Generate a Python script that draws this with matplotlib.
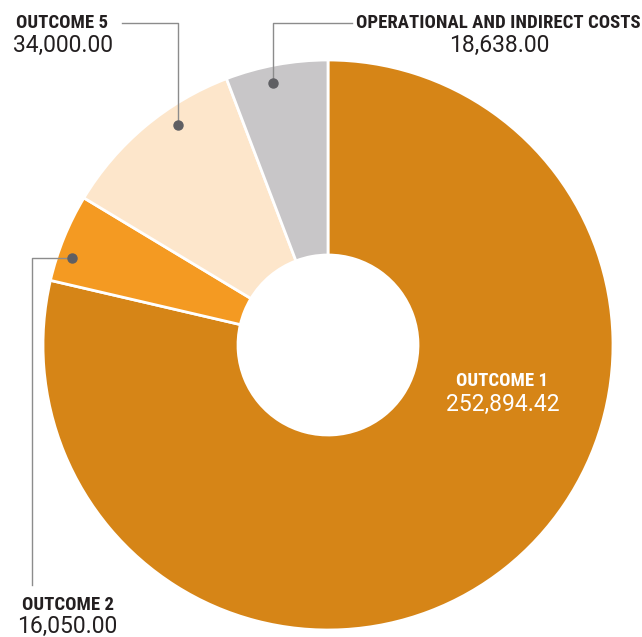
import matplotlib.pyplot as plt

# valores
categorias = ["OUTCOME 1", "OUTCOME 2", "OUTCOME 5", "OPERATIONAL AND INDIRECT COSTS"]
valores = [252894.42, 16050.00, 34000.00, 18638.00]
cores = ["#D68517", "#F49A22", "#FDE6CB", "#C8C6C8"]

W, H = 642, 637
fig = plt.figure(figsize=(W / 100, H / 100), dpi=100)
ax = fig.add_axes([0, 0, 1, 1])

cx, cy, R = 328, H - 345, 285
ax.pie(valores, colors=cores, startangle=90, counterclock=False,
       center=(cx, cy), radius=R, frame=True,
       wedgeprops=dict(width=R - 90, edgecolor="white", linewidth=2))
ax.set_xlim(0, W)
ax.set_ylim(0, H)
ax.set_aspect("equal")
ax.axis("off")

fonte_rot = ["Roboto Condensed", "DejaVu Sans"]
fonte_val = ["Roboto", "DejaVu Sans"]
tam_rot, tam_val = 13.5, 16.5
cor_linha = "#8c8c8c"
cor_ponto = "#5f5f63"
escuro = "#231f20"

def fmt(v):
    return f"{v:,.2f}"

# chamada OUTCOME 5
ax.plot([178, 178, 122], [H - 125, H - 23, H - 23], color=cor_linha, lw=1)
ax.plot(178, H - 125, "o", color=cor_ponto, ms=6.5)
ax.text(108, H - 23.5, categorias[2], ha="right", va="center", fontsize=tam_rot,
        fontweight="bold", family=fonte_rot, color=escuro)
ax.text(63, H - 45, fmt(valores[2]), ha="center", va="center", fontsize=tam_val,
        family=fonte_val, color=escuro)

# chamada operacional
ax.plot([273, 273, 352], [H - 83, H - 23, H - 23], color=cor_linha, lw=1)
ax.plot(273, H - 83, "o", color=cor_ponto, ms=6.5)
ax.text(498, H - 23.5, categorias[3], ha="center", va="center", fontsize=tam_rot,
        fontweight="bold", family=fonte_rot, color=escuro)
ax.text(499, H - 45, fmt(valores[3]), ha="center", va="center", fontsize=tam_val,
        family=fonte_val, color=escuro)

# chamada OUTCOME 2
ax.plot([72, 32, 32], [H - 258, H - 258, H - 585], color=cor_linha, lw=1)
ax.plot(72, H - 258, "o", color=cor_ponto, ms=6.5)
ax.text(68, H - 605, categorias[1], ha="center", va="center", fontsize=tam_rot,
        fontweight="bold", family=fonte_rot, color=escuro)
ax.text(67.5, H - 626, fmt(valores[1]), ha="center", va="center", fontsize=tam_val,
        family=fonte_val, color=escuro)

# OUTCOME 1 dentro
ax.text(502.5, H - 381, categorias[0], ha="center", va="center", fontsize=tam_rot,
        fontweight="bold", family=fonte_rot, color="white")
ax.text(502.5, H - 404, fmt(valores[0]), ha="center", va="center", fontsize=tam_val,
        family=fonte_val, color="white")

fig.savefig("out.png", dpi=100)
